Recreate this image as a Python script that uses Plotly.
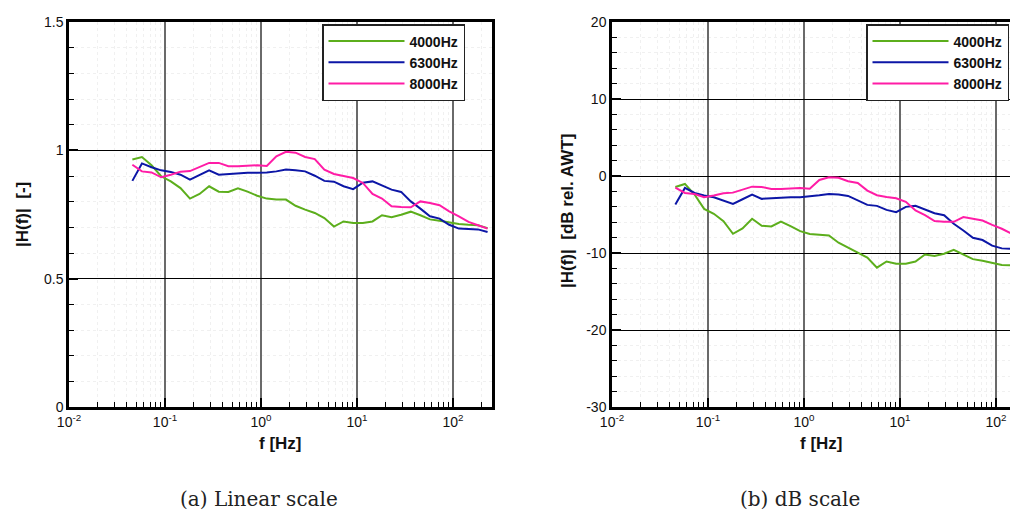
import plotly.graph_objects as go

# ---------------- data ----------------
freq_hz = [0.0457, 0.0575, 0.0724, 0.0912, 0.115, 0.145, 0.182, 0.229, 0.288, 0.363,
           0.457, 0.575, 0.724, 0.912, 1.148, 1.445, 1.82, 2.29, 2.88, 3.63,
           4.57, 5.75, 7.24, 9.12, 11.5, 14.5, 18.2, 22.9, 28.8, 36.3,
           45.7, 57.5, 72.4, 91.2, 115.0, 145.0, 182.0, 229.0]

series_names = ["4000Hz", "6300Hz", "8000Hz"]

lin_4000 = [0.964, 0.974, 0.942, 0.899, 0.879, 0.853, 0.812, 0.830, 0.860, 0.839,
            0.838, 0.852, 0.839, 0.823, 0.812, 0.808, 0.808, 0.784, 0.769, 0.756,
            0.736, 0.703, 0.723, 0.717, 0.717, 0.723, 0.747, 0.739, 0.749, 0.761,
            0.747, 0.731, 0.726, 0.719, 0.713, 0.710, 0.708, 0.697]
lin_6300 = [0.881, 0.949, 0.934, 0.922, 0.916, 0.905, 0.886, 0.903, 0.922, 0.905,
            0.908, 0.910, 0.913, 0.913, 0.914, 0.918, 0.925, 0.922, 0.918, 0.901,
            0.881, 0.878, 0.860, 0.849, 0.874, 0.879, 0.864, 0.847, 0.838, 0.801,
            0.773, 0.743, 0.734, 0.710, 0.695, 0.694, 0.692, 0.682]
lin_8000 = [0.944, 0.918, 0.914, 0.895, 0.905, 0.917, 0.919, 0.934, 0.951, 0.951,
            0.938, 0.938, 0.939, 0.942, 0.939, 0.977, 0.994, 0.991, 0.974, 0.966,
            0.925, 0.908, 0.900, 0.892, 0.873, 0.830, 0.812, 0.782, 0.779, 0.778,
            0.801, 0.795, 0.786, 0.762, 0.743, 0.721, 0.708, 0.695]

db_4000 = [-1.42, -1.03, -2.41, -4.27, -4.91, -5.86, -7.50, -6.81, -5.56, -6.47,
           -6.55, -5.91, -6.51, -7.16, -7.54, -7.67, -7.72, -8.66, -9.31, -9.87,
           -10.6, -11.9, -11.1, -11.4, -11.4, -11.1, -10.2, -10.4, -10.1, -9.6,
           -10.2, -10.8, -11.0, -11.25, -11.55, -11.6, -11.77, -12.2]
db_6300 = [-3.71, -1.55, -2.20, -2.54, -2.76, -3.19, -3.62, -3.02, -2.41, -2.97,
           -2.89, -2.80, -2.76, -2.76, -2.67, -2.50, -2.33, -2.41, -2.59, -3.15,
           -3.75, -3.88, -4.40, -4.70, -4.01, -3.88, -4.35, -4.83, -5.09, -6.21,
           -7.07, -8.02, -8.32, -9.05, -9.40, -9.48, -9.53, -9.9]
db_8000 = [-1.51, -2.20, -2.33, -2.76, -2.54, -2.24, -2.16, -1.81, -1.38, -1.42,
           -1.68, -1.68, -1.64, -1.55, -1.64, -0.52, -0.17, -0.22, -0.69, -0.91,
           -1.90, -2.50, -2.72, -2.89, -3.36, -4.48, -5.09, -5.86, -5.95, -5.95,
           -5.34, -5.56, -5.78, -6.34, -6.85, -7.50, -7.93, -8.2]

x_tickvals = [0.01, 0.1, 1, 10, 100]
x_ticktext = ["10<sup>-2</sup>", "10<sup>-1</sup>", "10<sup>0</sup>", "10<sup>1</sup>", "10<sup>2</sup>"]
y1_tickvals = [0, 0.5, 1, 1.5]
y1_ticktext = ["0", "0.5", "1", "1.5"]
y2_tickvals = [-30, -20, -10, 0, 10, 20]
y2_ticktext = ["-30", "-20", "-10", "0", "10", "20"]

# ---------------- styling ----------------
colors = ["#5cae1c", "#0c16a6", "#ff1ca6"]
W, H = 1018, 511
TICKFONT = dict(family="Liberation Sans, Arial, sans-serif", size=14, color="#111")
TITLEFONT = dict(family="Liberation Sans, Arial, sans-serif", size=17, color="#111")
LEGFONT = dict(family="Liberation Sans, Arial, sans-serif", size=14, color="#111",
               weight="bold")
minor_x = [m * 10.0 ** e for e in range(-2, 3) for m in range(2, 10)]

fig = go.Figure()
for name, lin, db, c in zip(series_names, [lin_4000, lin_6300, lin_8000],
                            [db_4000, db_6300, db_8000], colors):
    fig.add_trace(go.Scatter(x=freq_hz, y=lin, mode="lines", name=name,
                             line=dict(color=c, width=2), xaxis="x", yaxis="y",
                             legend="legend"))
    fig.add_trace(go.Scatter(x=freq_hz, y=db, mode="lines", name=name,
                             line=dict(color=c, width=2), xaxis="x2", yaxis="y2",
                             legend="legend2"))


def xaxis(domain, rng, anchor):
    return dict(domain=domain, type="log", range=rng, anchor=anchor,
                tickmode="array", tickvals=x_tickvals, ticktext=x_ticktext,
                ticks="inside", ticklen=9, tickwidth=2, tickcolor="black",
                tickfont=TICKFONT, showline=True, linecolor="black", linewidth=2.5,
                mirror=True, showgrid=True, gridcolor="#6a6a6a", gridwidth=1.5,
                zeroline=False, automargin=False,
                minor=dict(tickmode="array", tickvals=minor_x, ticks="inside",
                           ticklen=5, tickwidth=1.2, tickcolor="black",
                           showgrid=True, gridcolor="#f0f0f0", griddash="dot",
                           gridwidth=1))


def yaxis(domain, rng, anchor, tv, tt, minor_dtick, mirror):
    return dict(domain=domain, range=rng, anchor=anchor,
                tickmode="array", tickvals=tv, ticktext=tt,
                ticks="inside", ticklen=9, tickwidth=2, tickcolor="black",
                tickfont=TICKFONT, showline=True, linecolor="black", linewidth=2.5,
                mirror=mirror, showgrid=True, gridcolor="black", gridwidth=1,
                zeroline=False, automargin=False,
                minor=dict(dtick=minor_dtick, ticks="inside", ticklen=5,
                           tickwidth=1.2, tickcolor="black", showgrid=True,
                           gridcolor="#f0f0f0", griddash="dot", gridwidth=1))


ydom = [1 - 399 / H, 1 - 14 / H]
fig.update_layout(
    width=W, height=H, paper_bgcolor="white", plot_bgcolor="white",
    margin=dict(l=0, r=0, t=0, b=0),
    xaxis=xaxis([61 / W, 484 / W], [-2, 2.406], "y"),
    yaxis=yaxis(ydom, [0, 1.5], "x", y1_tickvals, y1_ticktext, 0.1, True),
    xaxis2=xaxis([604 / W, 1.0], [-2, 2.3125], "y2"),
    yaxis2=yaxis(ydom, [-30, 20], "x2", y2_tickvals, y2_ticktext, 2, False),
    legend=dict(x=314 / W, y=1 - 16 / H, xanchor="left", yanchor="top",
                bgcolor="white", bordercolor="#222", borderwidth=1.5,
                font=LEGFONT, itemwidth=76, tracegroupgap=0),
    legend2=dict(x=858 / W, y=1 - 16 / H, xanchor="left", yanchor="top",
                 bgcolor="white", bordercolor="#222", borderwidth=1.5,
                 font=LEGFONT, itemwidth=76, tracegroupgap=0),
    showlegend=True,
)

annos = [
    dict(text="<b>f [Hz]</b>", x=272 / W, y=1 - 435 / H, font=TITLEFONT),
    dict(text="<b>f [Hz]</b>", x=813 / W, y=1 - 435 / H, font=TITLEFONT),
    dict(text="<b>|H(f)|  [-]</b>", x=14 / W, y=1 - 207 / H, font=TITLEFONT, textangle=-90),
    dict(text="<b>|H(f)|  [dB rel. AWT]</b>", x=559 / W, y=1 - 203 / H, font=TITLEFONT,
         textangle=-90),
    dict(text="(a) Linear scale", x=251 / W, y=1 - 491 / H,
         font=dict(family="DejaVu Serif, serif", size=20, color="#222")),
    dict(text="(b) dB scale", x=792 / W, y=1 - 491 / H,
         font=dict(family="DejaVu Serif, serif", size=20, color="#222")),
]
for a in annos:
    fig.add_annotation(xref="paper", yref="paper", showarrow=False,
                       xanchor="center", yanchor="middle", **a)

fig.write_html("out.html")
